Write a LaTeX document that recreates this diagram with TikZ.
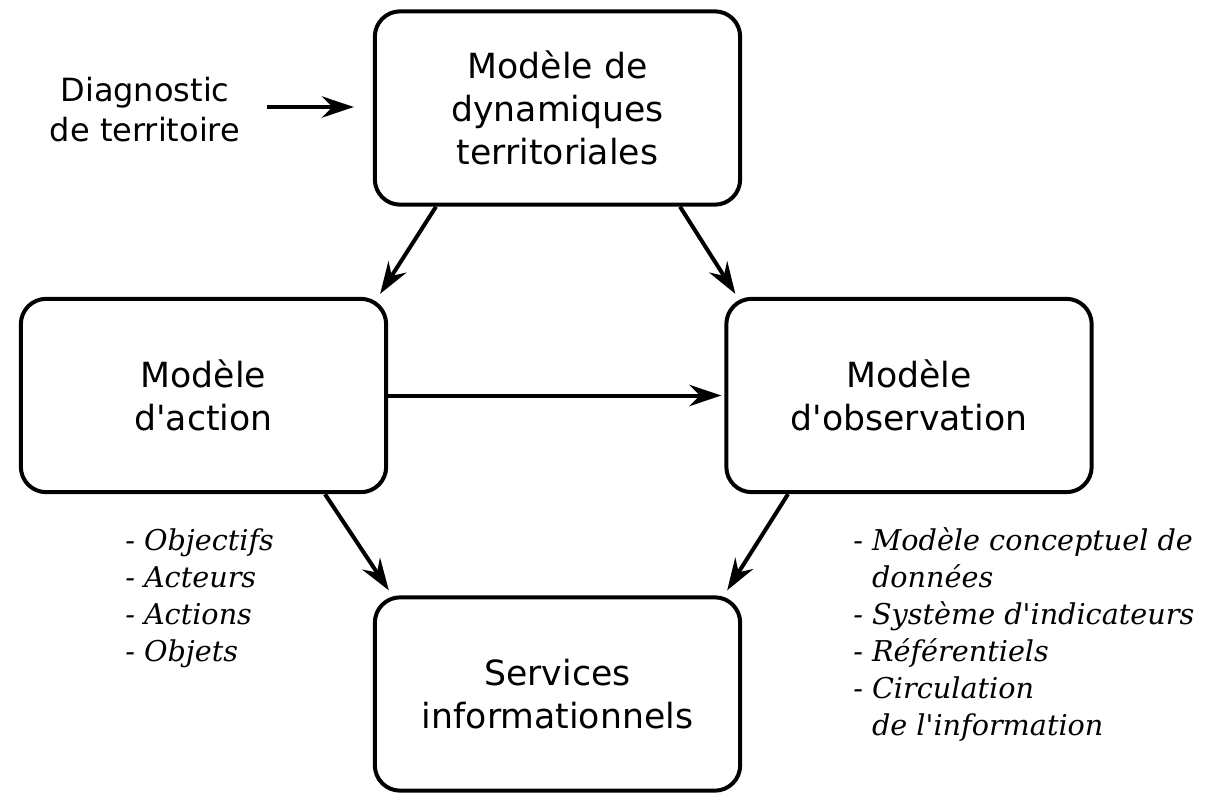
\documentclass[tikz,border=0pt]{standalone}
\usepackage{fontspec}
\setmainfont{DejaVu Sans}[Ligatures=TeXOff]
\newfontfamily\listfont{DejaVu Serif}
\usetikzlibrary{arrows.meta,calc}

\tikzset{
  modelbox/.style={draw, line width=3pt, rounded corners=19pt, minimum width=274pt,
    minimum height=145pt, align=center, font=\fontsize{26pt}{32pt}\selectfont},
  arr/.style={line width=3pt, -{Stealth[length=24pt, width=16pt, inset=8pt]}},
  listtext/.style={anchor=west, align=left, inner sep=0pt,
    font=\listfont\itshape\fontsize{21.5pt}{27.75pt}\selectfont}
}

\begin{document}
\begin{tikzpicture}[x=0.75pt,y=-0.75pt]
\useasboundingbox (0,0) rectangle (1209,796);

% boxes
\node[modelbox] (dyn) at (557.5,108) {Modèle de\\dynamiques\\territoriales};
\node[modelbox] (action) at (203.5,395.5) {Modèle\\d'action};
\node[modelbox] (obs) at (909,395.5) {Modèle\\d'observation};
\node[modelbox] (serv) at (557.5,694) {Services\\informationnels};

% input text
\node[align=center, inner sep=0pt, font=\fontsize{24pt}{30pt}\selectfont] (diag) at (145,110) {Diagnostic\\de territoire};

% lists
\node[listtext] (actlist) at (125,598) {- Objectifs\\- Acteurs\\- Actions\\- Objets};
\node[listtext] (obslist) at (853,635) {- Modèle conceptuel de\\\phantom{- }données\\- Système d'indicateurs\\- Référentiels\\- Circulation\\\phantom{- }de l'information};

% arrows
\draw[arr] ($(diag.east)+(27,-3)$) -- ($(dyn.west)+(-19,-1)$);
\draw[arr] ($(dyn.south)+(-121.5,0)$) -- ($(action.north east)+(-8,-3)$);
\draw[arr] ($(dyn.south)+(122.5,0)$) -- ($(obs.north west)+(11,-3)$);
\draw[arr] (action.east) -- ($(obs.west)+(-3,0)$);
\draw[arr] ($(action.south)+(121.5,0)$) -- ($(serv.north west)+(16,-5)$);
\draw[arr] ($(obs.south)+(-121,0)$) -- ($(serv.north east)+(-15,-5)$);
\end{tikzpicture}
\end{document}
